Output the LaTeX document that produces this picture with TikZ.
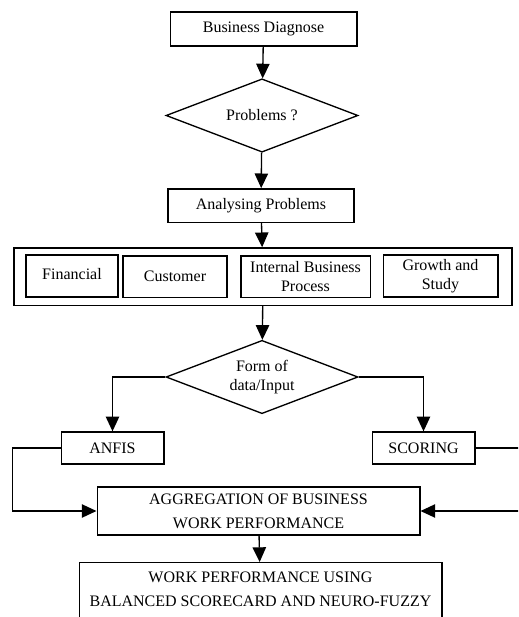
\documentclass[tikz,border=0pt]{standalone}
\usepackage{fontspec}
\setmainfont{Liberation Serif}
\usetikzlibrary{shapes.geometric,arrows.meta}
\begin{document}
\begin{tikzpicture}[x=0.75pt,y=-0.75pt,
	font=\fontsize{12}{14}\selectfont,
	box/.style={draw,line width=1pt,align=center,inner sep=0pt},
	decide/.style={draw,line width=1pt,diamond,aspect=2.6,inner sep=0pt,align=center,
		minimum width=144pt,minimum height=55pt},
	arr/.style={line width=1pt,-{Triangle[width=10pt,length=11pt]}}]
	\useasboundingbox (0,0) rectangle (518,617);
	\clip (0,0) rectangle (518,617);
	
	\node[box,minimum width=140pt,minimum height=25.5pt] (diag) at (263.5,29) {Business Diagnose};
	\node[decide] (prob) at (262,115.5) {Problems ?};
	\node[box,minimum width=139.5pt,minimum height=25pt] (anal) at (261,205.5) {Analysing Problems};
	
	\node[box,minimum width=373.5pt,minimum height=43pt] (bsc) at (263,276.5) {};
	\node[box,minimum width=69pt,minimum height=31.5pt] (fin) at (72,276) {\raisebox{3pt}{Financial}};
	\node[box,minimum width=78pt,minimum height=31pt] (cust) at (175,276.5) {\raisebox{1pt}{Customer}};
	\node[box,minimum width=97pt,minimum height=31pt] (ibp) at (305.5,276.5) {Internal Business\\Process};
	\node[box,minimum width=86pt,minimum height=31.5pt] (grow) at (440.5,276) {Growth and\\Study};
	
	\node[decide] (form) at (262,377) {Form of\\data/Input};
	\node[box,minimum width=77pt,minimum height=24pt] (anfis) at (112.5,448) {ANFIS};
	\node[box,minimum width=77pt,minimum height=24pt] (score) at (423.5,448) {SCORING};
	\node[box,minimum width=242pt,minimum height=36pt] (agg) at (258.5,511) {AGGREGATION OF BUSINESS\\[4pt]WORK PERFORMANCE};
	\node[box,anchor=north,minimum width=272pt,minimum height=48pt,inner ysep=7pt,text depth=14pt] (final) at (260.5,562) {WORK PERFORMANCE USING\\[4pt]BALANCED SCORECARD AND NEURO-FUZZY};
	
	\draw[arr] (diag) -- (prob);
	\draw[arr] (prob) -- (anal);
	\draw[arr] (anal) -- (bsc);
	\draw[arr] (bsc) -- (form);
	\draw[arr] (form.west) -| (anfis);
	\draw[arr] (form.east) -| (score);
	\draw[arr] (anfis.west) -- ++(-48,0) |- (agg.west);
	\draw[arr] (score.east) -- ++(60,0) |- (agg.east);
	\draw[arr] (agg) -- (final);
\end{tikzpicture}
\end{document}
